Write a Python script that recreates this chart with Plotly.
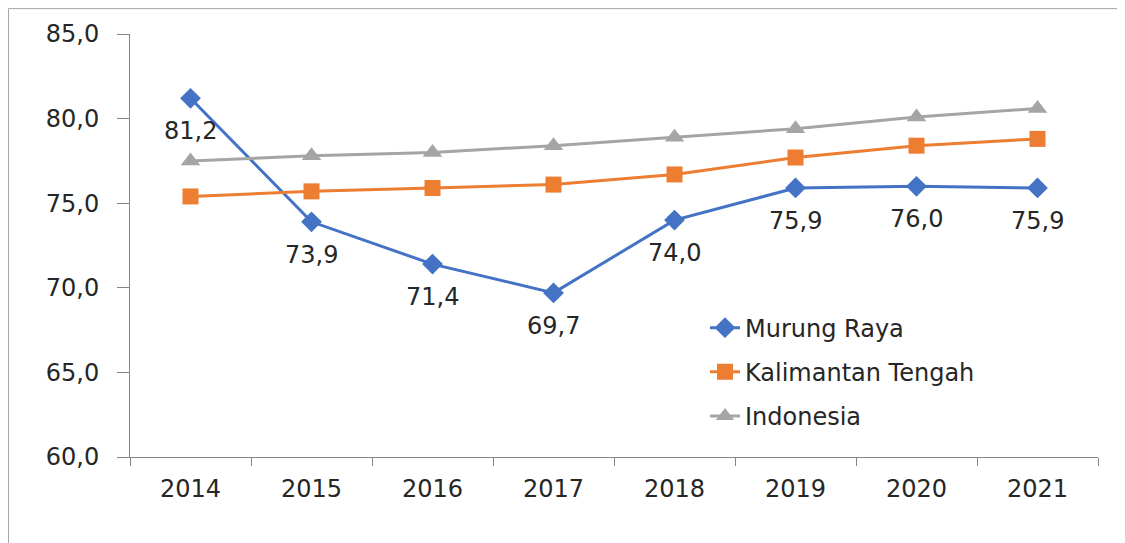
import plotly.graph_objects as go

years = ["2014", "2015", "2016", "2017", "2018", "2019", "2020", "2021"]
murung_raya = [81.2, 73.9, 71.4, 69.7, 74.0, 75.9, 76.0, 75.9]
kalteng = [75.4, 75.7, 75.9, 76.1, 76.7, 77.7, 78.4, 78.8]
indonesia = [77.5, 77.8, 78.0, 78.4, 78.9, 79.4, 80.1, 80.6]

font_family = "DejaVu Sans, sans-serif"
text_col = "#262626"
axis_col = "#868686"
fs = 24

fig = go.Figure()
fig.add_trace(go.Scatter(x=years, y=murung_raya, name="Murung Raya", mode="lines+markers",
                         line=dict(color="#4472C4", width=3),
                         marker=dict(symbol="diamond", size=16, color="#4472C4"),
                         legendgroup="a"))
fig.add_trace(go.Scatter(x=years, y=kalteng, name="Kalimantan Tengah", mode="lines+markers",
                         line=dict(color="#ED7D31", width=3),
                         marker=dict(symbol="square", size=16, color="#ED7D31"),
                         legendgroup="b"))
fig.add_trace(go.Scatter(x=years, y=indonesia, name="Indonesia", mode="lines+markers",
                         line=dict(color="#A5A5A5", width=3),
                         marker=dict(symbol="triangle-up", size=17, color="#A5A5A5"),
                         legendgroup="c"))

# data labels for Murung Raya, below the points
for i, v in enumerate(murung_raya):
    fig.add_annotation(x=i, y=v, xref="x", yref="y", text=f"{v:.1f}".replace(".", ","),
                       showarrow=False, yshift=-33,
                       font=dict(size=fs, color=text_col, family=font_family))

# outer chart border (cut off at right and bottom)
fig.add_shape(type="rect", xref="paper", yref="paper", x0=-0.1255, y0=-0.4, x1=1.2, y1=1.06,
              line=dict(color="#A6A6A6", width=1), layer="below")

fig.update_layout(
    width=1117, height=535,
    margin=dict(l=122, r=27, t=26, b=86),
    plot_bgcolor="white", paper_bgcolor="white",
    separators=",.",
    font=dict(family=font_family, size=fs, color=text_col),
    showlegend=True,
    legend=dict(x=0.594, y=0.358, xanchor="left", yanchor="top", tracegroupgap=10,
                font=dict(size=fs, color=text_col), bgcolor="rgba(0,0,0,0)"),
)
fig.update_xaxes(type="category", range=[-0.5, 7.5], showline=True, linecolor=axis_col,
                 linewidth=1, ticks="outside", tickson="boundaries", ticklen=8,
                 tickcolor=axis_col, showgrid=False, zeroline=False, ticklabelstandoff=10,
                 tickfont=dict(size=fs, color=text_col))
fig.update_yaxes(range=[60, 85], dtick=5, tickformat=".1f", showline=True, linecolor=axis_col,
                 linewidth=1, ticks="outside", ticklen=12, tickcolor=axis_col,
                 showgrid=False, zeroline=False, ticklabelstandoff=13,
                 tickfont=dict(size=fs, color=text_col))

fig.write_html("out.html")
